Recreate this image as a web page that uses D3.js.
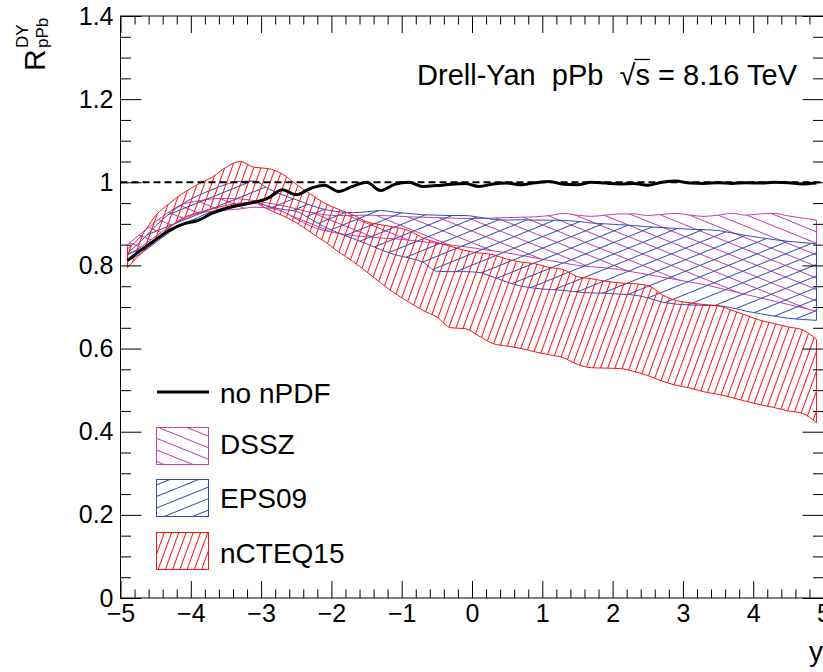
<!DOCTYPE html>
<html>
<head>
<meta charset="utf-8">
<script src="https://cdn.jsdelivr.net/npm/d3@7"></script>
<style>
  html, body { margin: 0; padding: 0; background: #fff; }
  svg { display: block; font-family: "Liberation Sans", Arial, Helvetica, sans-serif; }
</style>
</head>
<body>
<div id="chart"></div>
<script>
// rapidity grid
const rapidity = [-4.9, -4.7, -4.5, -4.3, -4.1, -3.9, -3.7, -3.5, -3.3, -3.1,
  -2.9, -2.7, -2.5, -2.3, -2.1, -1.9, -1.7, -1.5, -1.3, -1.1,
  -0.9, -0.7, -0.5, -0.3, -0.1, 0.1, 0.3, 0.5, 0.7, 0.9,
  1.1, 1.3, 1.5, 1.7, 1.9, 2.1, 2.3, 2.5, 2.7, 2.9,
  3.1, 3.3, 3.5, 3.7, 3.9, 4.1, 4.3, 4.5, 4.7, 4.9];

// no nPDF
const noNPDF = [0.812, 0.838, 0.862, 0.885, 0.900, 0.908, 0.925, 0.937, 0.945, 0.952,
  0.962, 0.982, 0.970, 0.985, 0.993, 0.978, 0.990, 1.000, 0.980, 0.995,
  1.000, 0.990, 0.992, 0.995, 0.997, 0.990, 0.996, 0.998, 0.994, 0.999,
  1.002, 0.995, 0.994, 1.000, 0.998, 0.996, 0.997, 0.993, 1.000, 1.003,
  0.998, 0.997, 0.999, 0.997, 0.999, 0.998, 1.000, 0.999, 0.996, 0.998];

// DSSZ band
const dsszHigh = [0.850, 0.878, 0.905, 0.930, 0.948, 0.955, 0.960, 0.961, 0.960, 0.956,
  0.950, 0.944, 0.936, 0.928, 0.922, 0.920, 0.920, 0.921, 0.920, 0.919,
  0.917, 0.916, 0.915, 0.914, 0.913, 0.913, 0.914, 0.915, 0.916, 0.917,
  0.920, 0.925, 0.921, 0.918, 0.921, 0.924, 0.924, 0.920, 0.923, 0.925,
  0.921, 0.918, 0.921, 0.925, 0.921, 0.924, 0.925, 0.919, 0.914, 0.909];
const dsszLow = [0.825, 0.845, 0.870, 0.893, 0.912, 0.925, 0.930, 0.933, 0.936, 0.940,
  0.938, 0.930, 0.912, 0.895, 0.884, 0.877, 0.872, 0.869, 0.866, 0.864,
  0.861, 0.857, 0.853, 0.849, 0.845, 0.840, 0.835, 0.830, 0.824, 0.818,
  0.812, 0.806, 0.800, 0.797, 0.794, 0.790, 0.784, 0.778, 0.772, 0.766,
  0.760, 0.754, 0.746, 0.738, 0.730, 0.722, 0.714, 0.706, 0.698, 0.690];

// EPS09 band
const eps09High = [0.830, 0.860, 0.895, 0.925, 0.950, 0.968, 0.982, 0.995, 1.002, 1.003,
  0.985, 0.970, 0.958, 0.945, 0.935, 0.929, 0.927, 0.929, 0.932, 0.928,
  0.925, 0.922, 0.921, 0.920, 0.920, 0.916, 0.911, 0.909, 0.910, 0.909,
  0.909, 0.908, 0.906, 0.902, 0.900, 0.898, 0.896, 0.893, 0.891, 0.889,
  0.887, 0.886, 0.884, 0.878, 0.872, 0.867, 0.862, 0.858, 0.855, 0.852];
const eps09Low = [0.810, 0.830, 0.855, 0.880, 0.900, 0.915, 0.930, 0.940, 0.948, 0.952,
  0.942, 0.935, 0.930, 0.912, 0.893, 0.878, 0.865, 0.852, 0.838, 0.826,
  0.818, 0.808, 0.786, 0.785, 0.785, 0.783, 0.772, 0.760, 0.750, 0.745,
  0.742, 0.740, 0.736, 0.734, 0.733, 0.731, 0.729, 0.722, 0.712, 0.707,
  0.705, 0.704, 0.703, 0.698, 0.690, 0.684, 0.678, 0.673, 0.670, 0.668];

// nCTEQ15 band
const ncteqHigh = [0.840, 0.872, 0.920, 0.950, 0.975, 0.995, 1.012, 1.036, 1.050, 1.036,
  1.033, 1.020, 0.995, 0.972, 0.950, 0.935, 0.922, 0.905, 0.898, 0.892,
  0.884, 0.866, 0.855, 0.846, 0.836, 0.830, 0.826, 0.815, 0.808, 0.804,
  0.795, 0.790, 0.773, 0.768, 0.762, 0.758, 0.756, 0.752, 0.730, 0.716,
  0.710, 0.706, 0.703, 0.692, 0.680, 0.668, 0.660, 0.652, 0.645, 0.622];
const ncteqLow = [0.795, 0.830, 0.860, 0.892, 0.915, 0.927, 0.936, 0.944, 0.950, 0.950,
  0.935, 0.920, 0.903, 0.880, 0.858, 0.833, 0.810, 0.785, 0.758, 0.733,
  0.712, 0.692, 0.676, 0.650, 0.648, 0.630, 0.612, 0.606, 0.600, 0.592,
  0.585, 0.578, 0.562, 0.554, 0.553, 0.552, 0.545, 0.535, 0.522, 0.512,
  0.505, 0.496, 0.490, 0.482, 0.473, 0.465, 0.458, 0.450, 0.444, 0.422];

const xMajorTicks = [-5, -4, -3, -2, -1, 0, 1, 2, 3, 4, 5];
const yMajorTicks = [0, 0.2, 0.4, 0.6, 0.8, 1, 1.2, 1.4];

const legendLabels = ['no nPDF', 'DSSZ', 'EPS09', 'nCTEQ15'];

const W = 823, H = 672;
const frame = { left: 120.5, right: 823.5, top: 16, bottom: 598 };

const svg = d3.select('#chart').append('svg')
  .attr('width', W).attr('height', H);

const x = d3.scaleLinear().domain([-5, 5]).range([frame.left, frame.right]);
const y = d3.scaleLinear().domain([0, 1.4]).range([frame.bottom, frame.top]);

// hatch patterns
const defs = svg.append('defs');
function hatch(id, color, angle, spacing) {
  const p = defs.append('pattern')
    .attr('id', id)
    .attr('patternUnits', 'userSpaceOnUse')
    .attr('width', 40).attr('height', spacing)
    .attr('patternTransform', `rotate(${angle})`);
  p.append('line')
    .attr('x1', 0).attr('x2', 40)
    .attr('y1', spacing / 2).attr('y2', spacing / 2)
    .attr('stroke', color).attr('stroke-width', 1);
}
const cDSSZ = '#c040b0', cEPS = '#3050b0', cNCT = '#ff1010';
hatch('hDSSZ', cDSSZ, 22, 10.7);
hatch('hEPS', cEPS, -22, 10.7);
hatch('hNCT', cNCT, -70, 6.8);

// bands
const bands = [
  { lo: dsszLow, hi: dsszHigh, color: cDSSZ, fill: 'url(#hDSSZ)' },
  { lo: eps09Low, hi: eps09High, color: cEPS, fill: 'url(#hEPS)' },
  { lo: ncteqLow, hi: ncteqHigh, color: cNCT, fill: 'url(#hNCT)' }
];
const area = d3.area().curve(d3.curveMonotoneX);
const line = d3.line().curve(d3.curveMonotoneX);

bands.forEach(b => {
  const pts = rapidity.map((r, i) => [x(r), y(b.lo[i]), y(b.hi[i])]);
  svg.append('path')
    .attr('d', area.x(d => d[0]).y0(d => d[1]).y1(d => d[2])(pts))
    .attr('fill', b.fill).attr('stroke', 'none');
  [1, 2].forEach(k => {
    svg.append('path')
      .attr('d', line.x(d => d[0]).y(d => d[k])(pts))
      .attr('fill', 'none').attr('stroke', b.color).attr('stroke-width', 1);
  });
  // closing edges
  [0, pts.length - 1].forEach(j => {
    svg.append('line')
      .attr('x1', pts[j][0]).attr('x2', pts[j][0])
      .attr('y1', pts[j][1]).attr('y2', pts[j][2])
      .attr('stroke', b.color).attr('stroke-width', 1);
  });
});

// unity line
svg.append('line')
  .attr('x1', x(-5)).attr('x2', x(5))
  .attr('y1', y(1)).attr('y2', y(1))
  .attr('stroke', '#000').attr('stroke-width', 2)
  .attr('stroke-dasharray', '7,4');

// no nPDF curve
svg.append('path')
  .attr('d', d3.line().curve(d3.curveMonotoneX)
    .x((d, i) => x(rapidity[i])).y(d => y(d))(noNPDF))
  .attr('fill', 'none').attr('stroke', '#000').attr('stroke-width', 3);

// frame
svg.append('rect')
  .attr('x', frame.left).attr('y', frame.top)
  .attr('width', frame.right - frame.left).attr('height', frame.bottom - frame.top)
  .attr('fill', 'none').attr('stroke', '#000').attr('stroke-width', 1);

// axes
const xMinor = d3.range(-50, 51, 2).map(v => v / 10).filter(v => !xMajorTicks.includes(v));
const yMinor = d3.range(0, 29).map(v => v * 0.05).filter(v => Math.abs(v * 5 - Math.round(v * 5)) > 1e-6);

function styleAxis(g) {
  g.select('.domain').remove();
  g.selectAll('line').attr('stroke', '#000');
  g.selectAll('text').attr('fill', '#000').style('font-size', '25px')
    .style('font-family', '"Liberation Sans", Arial, sans-serif');
}

svg.append('g').attr('transform', `translate(0,${frame.bottom})`)
  .call(d3.axisBottom(x).tickValues(xMajorTicks).tickSize(-17).tickPadding(6))
  .call(styleAxis);
svg.append('g').attr('transform', `translate(0,${frame.bottom})`)
  .call(d3.axisBottom(x).tickValues(xMinor).tickSize(-8.5).tickFormat(''))
  .call(styleAxis);
svg.append('g').attr('transform', `translate(0,${frame.top})`)
  .call(d3.axisTop(x).tickValues(xMajorTicks).tickSize(-17).tickFormat(''))
  .call(styleAxis);
svg.append('g').attr('transform', `translate(0,${frame.top})`)
  .call(d3.axisTop(x).tickValues(xMinor).tickSize(-8.5).tickFormat(''))
  .call(styleAxis);

const yFmt = d => String(+d.toFixed(1));
svg.append('g').attr('transform', `translate(${frame.left},0)`)
  .call(d3.axisLeft(y).tickValues(yMajorTicks).tickSize(-21).tickPadding(7).tickFormat(yFmt))
  .call(styleAxis);
svg.append('g').attr('transform', `translate(${frame.left},0)`)
  .call(d3.axisLeft(y).tickValues(yMinor).tickSize(-10.5).tickFormat(''))
  .call(styleAxis);
svg.append('g').attr('transform', `translate(${frame.right},0)`)
  .call(d3.axisRight(y).tickValues(yMajorTicks).tickSize(-21).tickFormat(''))
  .call(styleAxis);
svg.append('g').attr('transform', `translate(${frame.right},0)`)
  .call(d3.axisRight(y).tickValues(yMinor).tickSize(-10.5).tickFormat(''))
  .call(styleAxis);

// axis titles
const yTitle = svg.append('text')
  .attr('transform', 'translate(45,71) rotate(-90)')
  .attr('fill', '#000');
yTitle.append('tspan').attr('x', 0).attr('y', 0).style('font-size', '30px').text('R');
yTitle.append('tspan').attr('x', 23).attr('y', -17).style('font-size', '17px').text('DY');
yTitle.append('tspan').attr('x', 23).attr('y', 3).style('font-size', '17px').text('pPb');

svg.append('text')
  .attr('x', 823).attr('y', 661)
  .attr('text-anchor', 'end')
  .style('font-size', '28px')
  .text('y');

// title
const titleSize = 29;
const title = svg.append('text')
  .attr('x', 797).attr('y', 85)
  .attr('text-anchor', 'end')
  .style('font-size', titleSize + 'px')
  .style('white-space', 'pre')
  .text('Drell-Yan  pPb  \u221As = 8.16 TeV');
const tNode = title.node();
const sIdx = tNode.textContent.indexOf('\u221A') + 1;
const ext = tNode.getExtentOfChar(sIdx);
svg.append('line')
  .attr('x1', ext.x - 1).attr('x2', ext.x + ext.width)
  .attr('y1', 85 - 0.88 * titleSize).attr('y2', 85 - 0.88 * titleSize)
  .attr('stroke', '#000').attr('stroke-width', 1.3);

// legend
const legend = svg.append('g');
legend.append('line')
  .attr('x1', 157).attr('x2', 209).attr('y1', 392).attr('y2', 392)
  .attr('stroke', '#000').attr('stroke-width', 3);
const boxes = [
  { y0: 427, fill: 'url(#hDSSZ)', color: cDSSZ },
  { y0: 479, fill: 'url(#hEPS)', color: cEPS },
  { y0: 532, fill: 'url(#hNCT)', color: cNCT }
];
boxes.forEach(b => {
  legend.append('rect')
    .attr('x', 156.5).attr('y', b.y0 + 0.5).attr('width', 52).attr('height', 37)
    .attr('fill', b.fill).attr('stroke', b.color).attr('stroke-width', 1);
});
const legendBaselines = [403, 454, 508, 563];
legendLabels.forEach((t, i) => {
  legend.append('text')
    .attr('x', 220).attr('y', legendBaselines[i])
    .style('font-size', '28px')
    .text(t);
});
</script>
</body>
</html>
